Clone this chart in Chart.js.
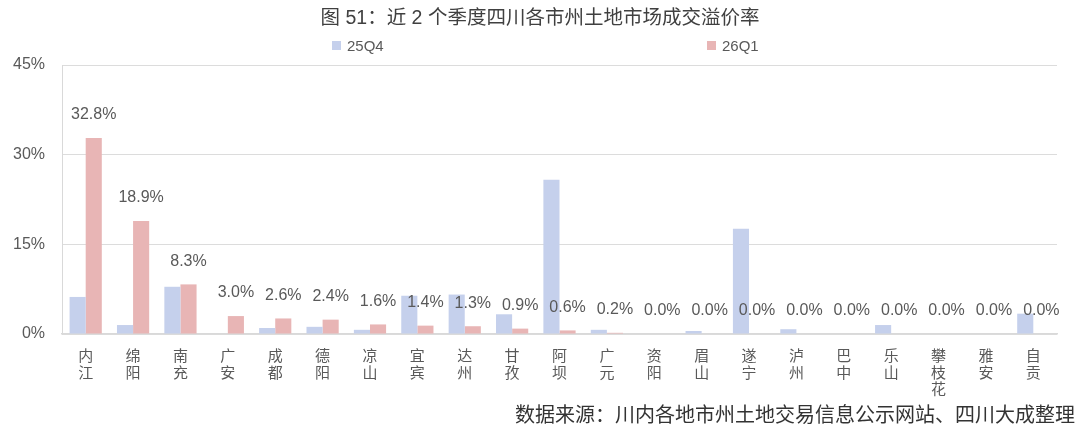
<!DOCTYPE html>
<html>
<head>
<meta charset="utf-8">
<script src="https://cdn.jsdelivr.net/npm/chart.js@4"></script>
<style>
  body { margin: 0; background: #fff; font-family: 'Liberation Sans', 'Noto Sans CJK SC', sans-serif; }
  #wrap { position: relative; width: 1080px; height: 427px; }
  #title { position: absolute; left: 0; width: 1080px; top: 1px; text-align: center; font-size: 19.5px; color: #404040; }
  .legend { position: absolute; top: 37px; font-size: 15px; color: #595959; }
  .legend i { display: inline-block; width: 9px; height: 9px; margin-right: 6px; vertical-align: 1px; }
  #source { position: absolute; right: 5px; top: 399px; font-size: 20px; color: #333; }
</style>
</head>
<body>
<div id="wrap">
  <canvas id="chart" width="1080" height="427"></canvas>
  <div id="title">图 51：近 2 个季度四川各市州土地市场成交溢价率</div>
  <div class="legend" style="left:332px"><i style="background:#c5d0ec"></i>25Q4</div>
  <div class="legend" style="left:707px"><i style="background:#e8b5b5"></i>26Q1</div>
  <div id="source">数据来源：川内各地市州土地交易信息公示网站、四川大成整理</div>
</div>
<script>
// cities, one label line per character
const cities = ['内江', '绵阳', '南充', '广安', '成都', '德阳', '凉山', '宜宾', '达州', '甘孜',
                '阿坝', '广元', '资阳', '眉山', '遂宁', '泸州', '巴中', '乐山', '攀枝花', '雅安', '自贡'];
// premium rate (%) per quarter
const q4_2025 = [6.2, 1.5, 7.9, 0, 1.0, 1.2, 0.7, 6.4, 6.6, 3.3,
                 25.8, 0.7, 0, 0.5, 17.6, 0.8, 0, 1.5, 0, 0, 3.4];
const q1_2026 = [32.8, 18.9, 8.3, 3.0, 2.6, 2.4, 1.6, 1.4, 1.3, 0.9,
                 0.6, 0.2, 0, 0, 0, 0, 0, 0, 0, 0, 0];
const yTicks = [0, 15, 30, 45];

const FONT = "'Liberation Sans', 'Noto Sans CJK SC', sans-serif";

// value labels over the 26Q1 bars
const valueLabels = {
    id: 'valueLabels',
    afterDatasetsDraw(chart) {
        const ctx = chart.ctx;
        const meta = chart.getDatasetMeta(1);
        ctx.save();
        ctx.font = '16px ' + FONT;
        ctx.fillStyle = '#595959';
        ctx.textAlign = 'center';
        ctx.textBaseline = 'middle';
        meta.data.forEach((bar, i) => {
            ctx.fillText(q1_2026[i].toFixed(1) + '%', bar.x, bar.y - 23);
        });
        ctx.restore();
    }
};

new Chart(document.getElementById('chart'), {
    type: 'bar',
    data: {
        labels: cities.map(c => c.split('')),
        datasets: [
            { label: '25Q4', data: q4_2025, backgroundColor: '#c5d0ec' },
            { label: '26Q1', data: q1_2026, backgroundColor: '#e8b5b5' }
        ]
    },
    options: {
        responsive: false,
        animation: false,
        layout: { padding: { top: 65, right: 23, left: 0, bottom: 0 } },
        datasets: { bar: { barPercentage: 1, categoryPercentage: 0.68 } },
        plugins: { legend: { display: false }, tooltip: { enabled: false } },
        scales: {
            x: {
                grid: { display: false, drawTicks: false },
                border: { display: true, color: '#d9d9d9', width: 1.5 },
                ticks: { color: '#595959', padding: 15, maxRotation: 0, autoSkip: false,
                         font: { family: FONT, size: 15, lineHeight: 1.1 } },
                afterFit(s) { s.height = 93; }
            },
            y: {
                min: 0, max: 45,
                afterBuildTicks(s) { s.ticks = yTicks.map(v => ({ value: v })); },
                grid: { color: '#dcdcdc', drawTicks: false },
                border: { display: true, color: '#d9d9d9' },
                ticks: { color: '#595959', padding: 17, callback: v => v + '%',
                         font: { family: FONT, size: 16 } },
                afterFit(s) { s.width = 62; }
            }
        }
    },
    plugins: [valueLabels]
});
</script>
</body>
</html>
